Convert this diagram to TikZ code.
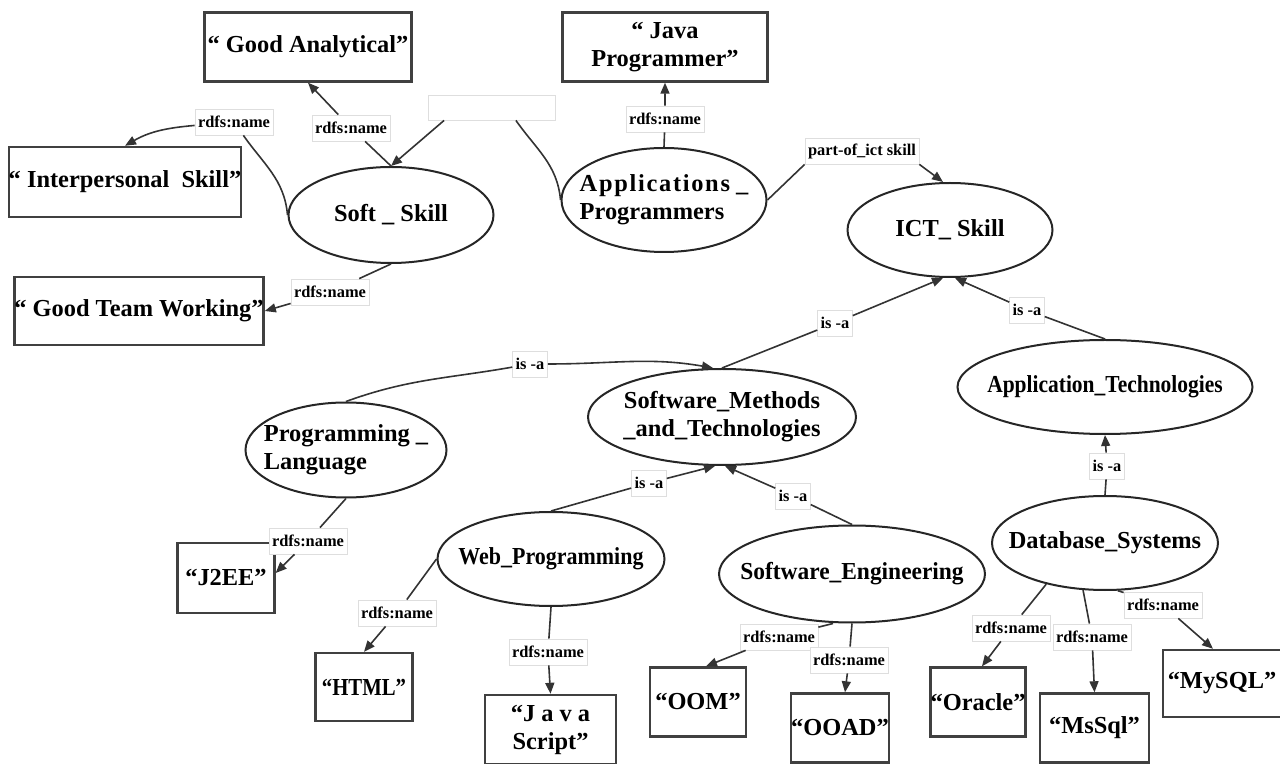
\documentclass[tikz,border=0pt]{standalone}
\usepackage{fontspec}
\setmainfont{Liberation Serif}
\usepackage{graphicx}
\usetikzlibrary{shapes.geometric,arrows.meta}

\tikzset{
  concept/.style={ellipse, draw=black!85, line width=1pt, inner sep=0pt},
  valbox/.style={rectangle, draw=black!75, line width=1.2pt, inner sep=0pt, align=center},
  lbl/.style={fill=white, draw=black!13, line width=0.4pt, inner xsep=1.5pt, inner ysep=0pt,
    minimum height=13pt, font=\fontsize{8.2}{9}\selectfont\bfseries},
  rel/.style={draw=black!80, line width=0.8pt},
  headed/.style={-{Triangle[length=5.5pt,width=4.5pt]}}
}
\newcommand{\squeeze}[2]{\scalebox{#1}[1]{#2}}

\begin{document}
\begin{tikzpicture}[x=0.5pt,y=-0.5pt,font=\fontsize{12.2}{14}\selectfont\bfseries]
\useasboundingbox (0,0) rectangle (1280,764);

% concepts
\node[concept, minimum width=102.5pt, minimum height=48pt, label=center:{Soft \_ Skill}] (soft) at (391,215) {};
\node[concept, minimum width=102.5pt, minimum height=52pt,
  label={[align=left]center:{{\addfontfeature{LetterSpace=7}Applications} \_\\Programmers}}] (appprog) at (664,200) {};
\node[concept, minimum width=102.5pt, minimum height=47pt, label=center:{ICT\_ Skill}] (ict) at (950,230) {};
\node[concept, minimum width=147.5pt, minimum height=47pt, label=center:{\squeeze{0.88}{Application\_Technologies}}] (apptech) at (1105,387) {};
\node[concept, minimum width=134pt, minimum height=48pt,
  label={[align=center]center:{Software\_Methods\\\_and\_Technologies}}] (swmeth) at (722,417) {};
\node[concept, minimum width=100.5pt, minimum height=47.5pt,
  label={[align=left]center:{Programming \_\\Language}}] (proglang) at (346,450) {};
\node[concept, minimum width=113.5pt, minimum height=47pt, label=center:{\squeeze{0.9}{Web\_Programming}}] (webprog) at (551,559) {};
\node[concept, minimum width=133pt, minimum height=48.5pt, label=center:{\squeeze{0.96}{Software\_Engineering}}] (sweng) at (852,574) {};
\node[concept, minimum width=113pt, minimum height=47pt, label=center:{Database\_Systems}] (dbsys) at (1105,543) {};

% values
\node[valbox, minimum width=103.5pt, minimum height=34.5pt] (analyt) at (308,47) {“ Good Analytical”};
\node[valbox, minimum width=102.5pt, minimum height=34.5pt] (javaprog) at (665,47) {“ Java\\Programmer”};
\node[valbox, minimum width=113pt, minimum height=35pt] (interp) at (125,182) {“ Interpersonal\ \ Skill”};
\node[valbox, minimum width=123pt, minimum height=34pt] (team) at (139,311) {“ Good Team Working”};
\node[valbox, minimum width=48.5pt, minimum height=35pt] (jee) at (226,578) {“J2EE”};
\node[valbox, minimum width=48.5pt, minimum height=34pt] (html) at (364,687) {\squeeze{0.85}{“HTML”}};
\node[valbox, minimum width=65.5pt, minimum height=34.5pt] (jscript) at (550.5,729.5) {“J a v a\\Script”};
\node[valbox, minimum width=48pt, minimum height=34.5pt] (oom) at (698,702) {“OOM”};
\node[valbox, minimum width=47.5pt, minimum height=34.5pt] (ooad) at (840,728) {“OOAD”};
\node[valbox, minimum width=47pt, minimum height=34.5pt] (oracle) at (978,702) {“Oracle”};
\node[valbox, minimum width=54.5pt, minimum height=34.5pt] (mssql) at (1094.5,728) {“MsSql”};
\node[valbox, minimum width=59pt, minimum height=33.5pt] (mysql) at (1222,683.5) {“MySQL”};

% edge labels
\node[lbl] (lanalyt) at (351,128) {rdfs:name};
\node[lbl] (linterp) at (234,122) {rdfs:name};
\node[lbl] (lteam) at (330,292) {rdfs:name};
\node[lbl, minimum width=63.5pt, minimum height=12.5pt] (blank) at (492,107.5) {};
\node[lbl] (ljava) at (665,119) {rdfs:name};
\node[lbl] (lict) at (862,151) {part-of\_ict skill};
\node[lbl] (lmeth) at (835,323) {is -a};
\node[lbl] (ltech) at (1027,310) {is -a};
\node[lbl] (llang) at (530,364) {is -a};
\node[lbl] (lweb) at (649,483) {is -a};
\node[lbl] (leng) at (793,496) {is -a};
\node[lbl] (ldb) at (1107,466) {is -a};
\node[lbl] (ljee) at (308,541) {rdfs:name};
\node[lbl] (lhtml) at (397,613) {rdfs:name};
\node[lbl] (ljs) at (548,652) {rdfs:name};
\node[lbl] (loom) at (779,637) {rdfs:name};
\node[lbl] (looad) at (849,660) {rdfs:name};
\node[lbl] (loracle) at (1011,628) {rdfs:name};
\node[lbl] (lmssql) at (1092,637) {rdfs:name};
\node[lbl] (lmysql) at (1163,605) {rdfs:name};

% relations
\draw[rel,headed] (soft.north) -- (lanalyt) -- (analyt.south);
\draw[rel,headed] (soft.west) to[out=95,in=-55] (linterp) to[out=185,in=30] (interp.north);
\draw[rel,headed] (soft.south) -- (lteam) -- (team.east);
\draw[rel] (appprog.west) to[out=95,in=-55] ([xshift=-20pt]blank.south east);
\draw[rel,headed] ([xshift=8pt]blank.south west) -- (soft.north);
\draw[rel,headed] (appprog.north) -- (ljava) -- (javaprog.south);
\draw[rel] (appprog.east) -- (lict.south west);
\draw[rel,headed] (lict.south east) -- ([xshift=-3.5pt]ict.north);
\draw[rel,headed] (swmeth.north) -- (lmeth) -- ([xshift=-3.5pt]ict.south);
\draw[rel,headed] (apptech.north) -- (ltech) -- ([xshift=2.5pt]ict.south);
\draw[rel,headed] (proglang.north) to[out=20,in=190] (llang) to[out=0,in=170] ([xshift=-4.5pt]swmeth.north);
\draw[rel,headed] (webprog.north) -- (lweb) -- ([xshift=-3.5pt]swmeth.south);
\draw[rel,headed] (sweng.north) -- (leng) -- ([xshift=1.5pt]swmeth.south);
\draw[rel,headed] (dbsys.north) -- (ldb) -- (apptech.south);
\draw[rel,headed] (proglang.south) -- (ljee) -- ([yshift=2.5pt]jee.east);
\draw[rel,headed] (webprog.west) -- (lhtml) -- (html.north);
\draw[rel,headed] (webprog.south) -- (ljs) -- (jscript.north);
\draw[rel,headed] ([xshift=-9.5pt]sweng.south) -- (loom) -- ([xshift=4pt]oom.north);
\draw[rel,headed] (sweng.south) -- (looad) -- ([xshift=2.5pt]ooad.north);
\draw[rel,headed] (dbsys.-145) -- (loracle) -- ([xshift=2pt]oracle.north);
\draw[rel,headed] (dbsys.-115) -- (lmssql) -- (mssql.north);
\draw[rel,headed] (dbsys.-75) -- (lmysql) -- ([xshift=-4.5pt]mysql.north);
\end{tikzpicture}
\end{document}
